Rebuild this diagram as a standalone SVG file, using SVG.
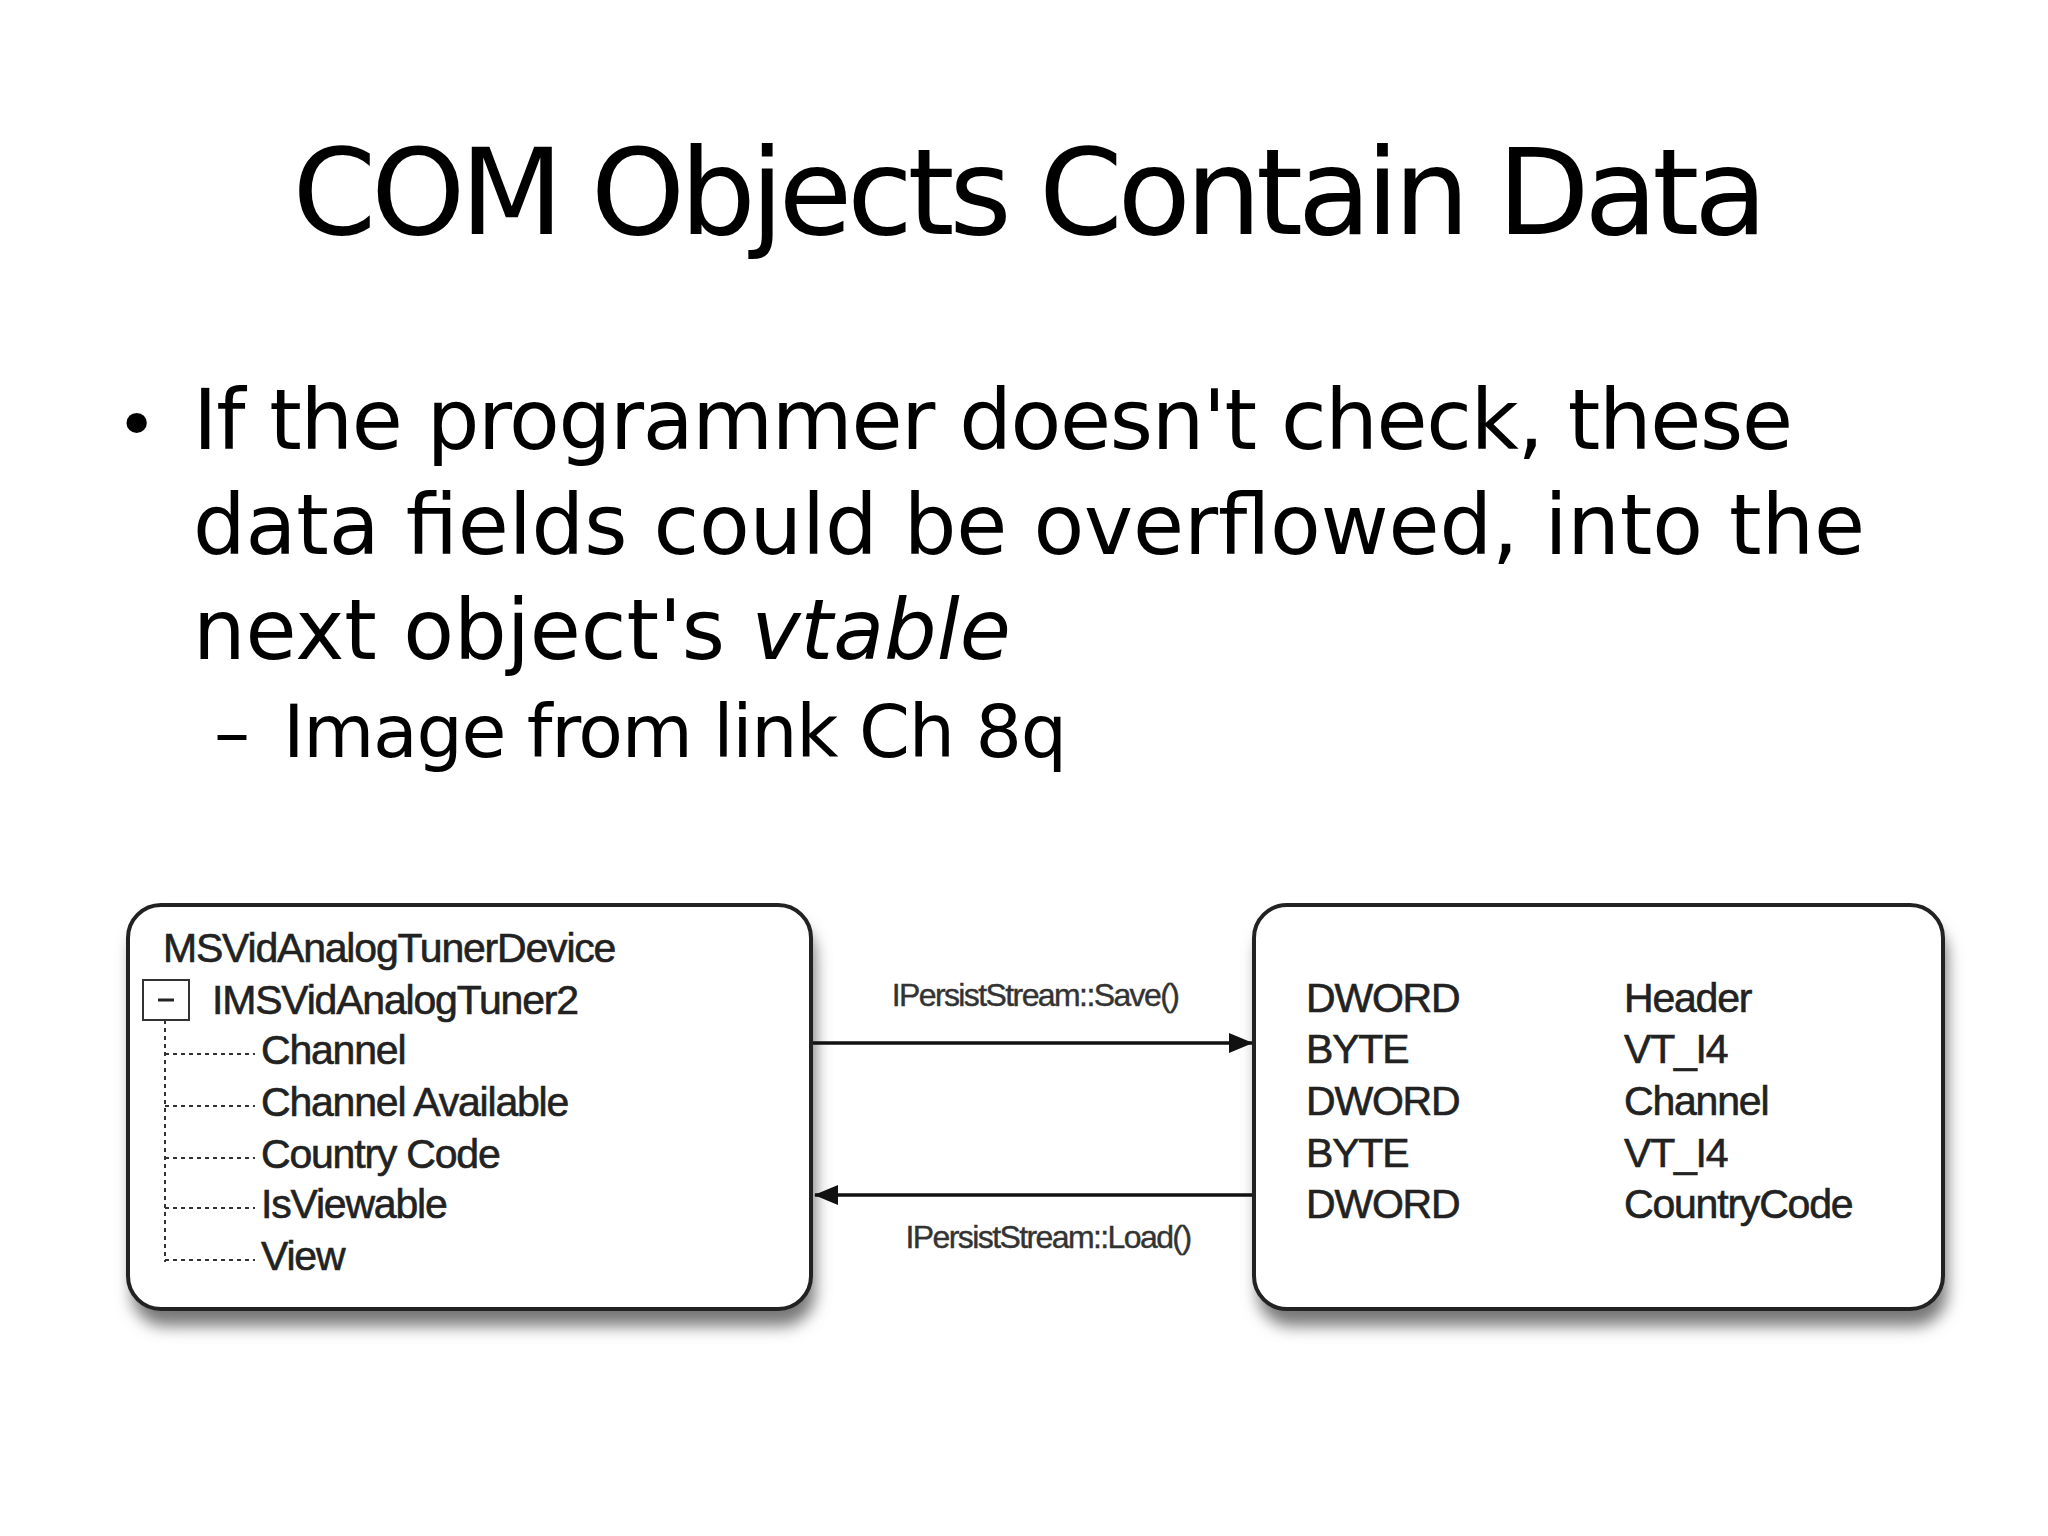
<svg xmlns="http://www.w3.org/2000/svg" width="2048" height="1536" viewBox="0 0 2048 1536">
<defs>
<style>
.s{font-family:"DejaVu Sans","Noto Sans",sans-serif;fill:#000}
.d{font-family:"Liberation Sans",Arial,sans-serif;fill:#222;font-size:41px;letter-spacing:-1.2px;stroke:#222;stroke-width:0.6}
.l{font-family:"Liberation Sans",Arial,sans-serif;fill:#333;font-size:32px;letter-spacing:-1.6px;stroke:#333;stroke-width:0.4}
.box{fill:#fff;stroke:#222;stroke-width:4}
.dot{stroke:#333;stroke-width:2;stroke-dasharray:4 4;fill:none}
</style>
<filter id="sh" x="-10%" y="-10%" width="120%" height="130%"><feGaussianBlur stdDeviation="8"/></filter>
<marker id="ah" markerWidth="24" markerHeight="20" refX="23" refY="10" orient="auto" markerUnits="userSpaceOnUse" viewBox="0 0 24 20"><path d="M0,0L24,10L0,20z" fill="#111"/></marker>
</defs>
<rect width="2048" height="1536" fill="#fff"/>
<text class="s" x="1030" y="234" font-size="120" text-anchor="middle" textLength="1475">COM Objects Contain Data</text>
<text class="s" x="116" y="449" font-size="70">•</text>
<text class="s" x="193" y="449" font-size="83" textLength="1600">If the programmer doesn't check, these</text>
<text class="s" x="193" y="554" font-size="83" textLength="1672">data fields could be overflowed, into the</text>
<text class="s" x="193" y="659" font-size="83">next object's <tspan font-style="italic">vtable</tspan></text>
<text class="s" x="214" y="757" font-size="72">–</text>
<text class="s" x="283" y="757" font-size="73" textLength="784">Image from link Ch 8q</text>
<g id="left">
<rect x="132" y="922" width="683" height="404" rx="33" fill="#777" filter="url(#sh)"/>
<rect class="box" x="128" y="905" width="683" height="404" rx="33"/>
<text class="d" x="163" y="962">MSVidAnalogTunerDevice</text>
<rect x="143" y="980" width="46" height="40" fill="#fff" stroke="#333" stroke-width="2"/>
<line x1="158" y1="1000" x2="174" y2="1000" stroke="#222" stroke-width="3"/>
<text class="d" x="212" y="1014">IMSVidAnalogTuner2</text>
<path class="dot" d="M165,1020V1262M165,1054H255M165,1106H255M165,1158H255M165,1208H255M165,1260H255"/>
<text class="d" x="261" y="1064">Channel</text>
<text class="d" x="261" y="1116">Channel Available</text>
<text class="d" x="261" y="1168">Country Code</text>
<text class="d" x="261" y="1218">IsViewable</text>
<text class="d" x="261" y="1270">View</text>
</g>
<g id="right">
<rect x="1258" y="922" width="689" height="404" rx="33" fill="#777" filter="url(#sh)"/>
<rect class="box" x="1254" y="905" width="689" height="404" rx="33"/>
<text class="d" x="1306" y="1012">DWORD</text><text class="d" x="1624" y="1012">Header</text>
<text class="d" x="1306" y="1063">BYTE</text><text class="d" x="1624" y="1063">VT_I4</text>
<text class="d" x="1306" y="1115">DWORD</text><text class="d" x="1624" y="1115">Channel</text>
<text class="d" x="1306" y="1167">BYTE</text><text class="d" x="1624" y="1167">VT_I4</text>
<text class="d" x="1306" y="1218">DWORD</text><text class="d" x="1624" y="1218">CountryCode</text>
</g>
<g id="connectors">
<line x1="813" y1="1043" x2="1252" y2="1043" stroke="#111" stroke-width="3.5" marker-end="url(#ah)"/>
<text class="l" x="1035" y="1006" text-anchor="middle">IPersistStream::Save()</text>
<line x1="1252" y1="1195" x2="815" y2="1195" stroke="#111" stroke-width="3.5" marker-end="url(#ah)"/>
<text class="l" x="1048" y="1248" text-anchor="middle">IPersistStream::Load()</text>
</g>
</svg>
